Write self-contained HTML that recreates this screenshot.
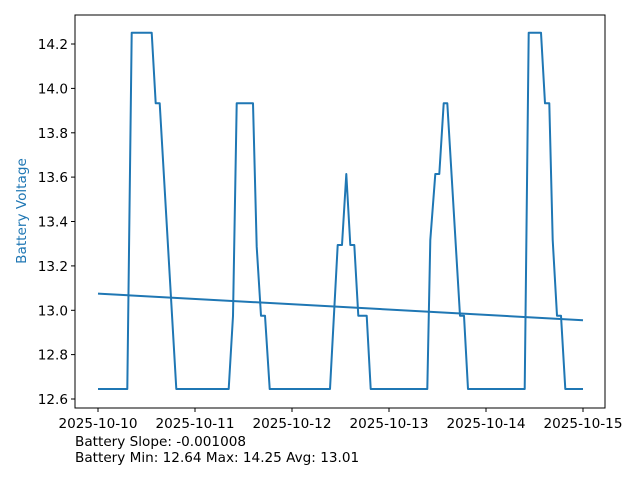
<!DOCTYPE html>
<html><head><style>body{margin:0;background:#fff}svg{display:block}text{font-family:"DejaVu Sans","Liberation Sans",sans-serif;font-size:13.6px;fill:#000}</style></head>
<body><svg width="640" height="480" xmlns="http://www.w3.org/2000/svg">
<rect x="75" y="15" width="530" height="393" fill="none" stroke="#000" stroke-width="1"/>
<g stroke="#000">
<line x1="98" y1="408" x2="98" y2="412"/><line x1="195" y1="408" x2="195" y2="412"/><line x1="292" y1="408" x2="292" y2="412"/><line x1="389" y1="408" x2="389" y2="412"/><line x1="486" y1="408" x2="486" y2="412"/><line x1="583" y1="408" x2="583" y2="412"/>
<line x1="71" y1="399" x2="75" y2="399"/><line x1="71" y1="354.6" x2="75" y2="354.6"/><line x1="71" y1="310.3" x2="75" y2="310.3"/><line x1="71" y1="265.9" x2="75" y2="265.9"/><line x1="71" y1="221.5" x2="75" y2="221.5"/><line x1="71" y1="177.1" x2="75" y2="177.1"/><line x1="71" y1="132.8" x2="75" y2="132.8"/><line x1="71" y1="88.4" x2="75" y2="88.4"/><line x1="71" y1="44" x2="75" y2="44"/>
</g>
<g text-anchor="middle">
<text x="98" y="428">2025-10-10</text><text x="195" y="428">2025-10-11</text><text x="292" y="428">2025-10-12</text><text x="389" y="428">2025-10-13</text><text x="486" y="428">2025-10-14</text><text x="583" y="428">2025-10-15</text>
</g>
<g text-anchor="end">
<text x="68" y="404">12.6</text><text x="68" y="359.6">12.8</text><text x="68" y="315.3">13.0</text><text x="68" y="270.9">13.2</text><text x="68" y="226.5">13.4</text><text x="68" y="182.1">13.6</text><text x="68" y="137.8">13.8</text><text x="68" y="93.4">14.0</text><text x="68" y="49">14.2</text>
</g>
<text x="26" y="211" text-anchor="middle" transform="rotate(-90 26 211)" style="fill:#1f77b4">Battery Voltage</text>
<polyline fill="none" stroke="#1f77b4" stroke-width="2" stroke-linejoin="round" points="98,389 127.3,389 131.7,32.7 151.7,32.7 155.7,103.3 159.7,103.3 176.3,389 228.7,389 233,316 236.7,103.3 253,103.3 256.7,246.7 261,315.7 265,315.7 269.7,389 330,389 337.7,245 342,245 346.3,174 350.3,245 354.3,245 358.3,315.7 366.7,315.7 370.7,389 427.3,389 430.3,240 435.3,174 439.3,174 443.7,103.3 447.3,103.3 460,315.7 464,315.7 468,389 524.7,389 528.7,32.7 541,32.7 545,103.3 549.3,103.3 552.7,240 557,315.7 561,315.7 565.3,389 583,389"/>
<line x1="98" y1="293.6" x2="583" y2="320.2" stroke="#1f77b4" stroke-width="2"/>
<text x="75" y="446">Battery Slope: -0.001008</text>
<text x="75" y="462">Battery Min: 12.64 Max: 14.25 Avg: 13.01</text>
</svg></body></html>
